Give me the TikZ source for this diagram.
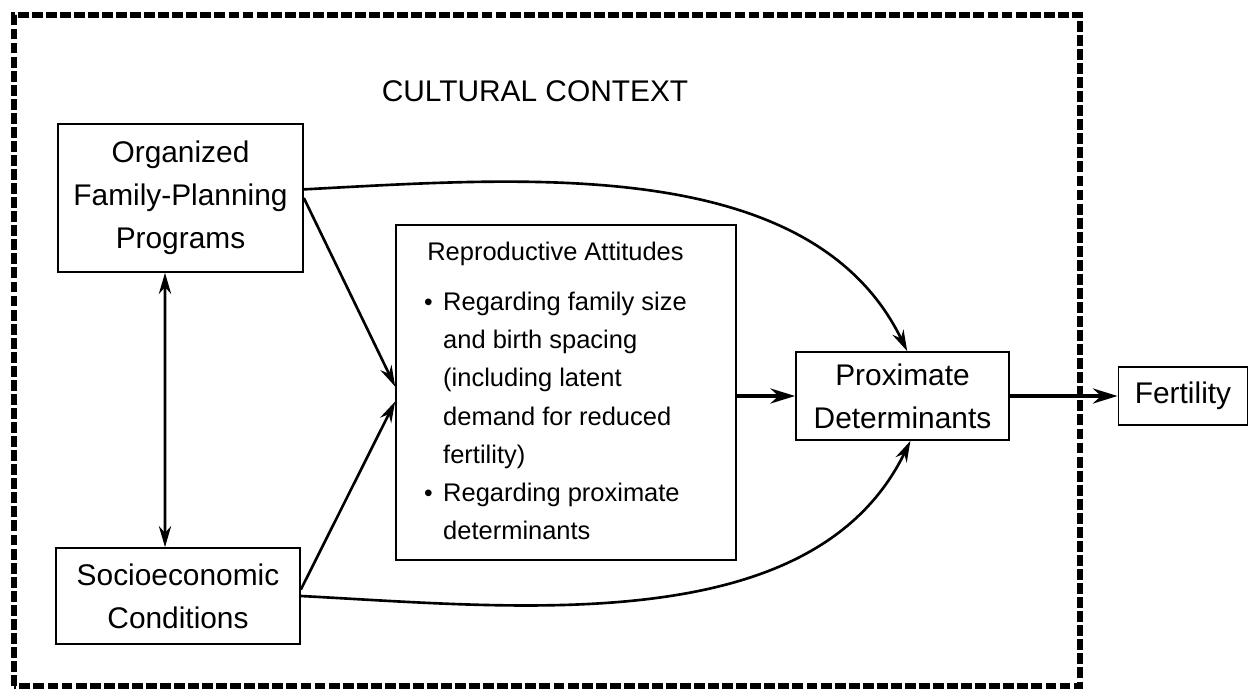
\documentclass[tikz,border=0pt]{standalone}
\usepackage{fontspec}
\setmainfont{Liberation Sans}
\usetikzlibrary{arrows.meta}

\begin{document}
\begin{tikzpicture}[x=0.02cm, y=0.02cm, >={Stealth[length=12pt, width=7pt]},
  box/.style={draw, line width=1pt},
  big/.style={box, align=center, font=\fontsize{17}{24.5}\selectfont},
  link/.style={line width=1.5pt, ->},
  thick link/.style={line width=2.4pt, -{Stealth[length=14pt, width=8.5pt]}}]
  \useasboundingbox (0,0) rectangle (1252,694);
  \draw[line width=3.4pt, dash pattern=on 6.2pt off 1.8pt] (14,8) rectangle (1080,679);
  \node[font=\fontsize{17}{20}\selectfont] (ctx) at (535,603) {CULTURAL CONTEXT};
  \node[big, minimum width=4.9cm, minimum height=2.96cm] (fpp) at (180.5,496) {Organized\\Family-Planning\\Programs};
  \node[big, minimum width=4.88cm, minimum height=1.92cm] (soc) at (178,98) {Socioeconomic\\Conditions};
  \node[box, minimum width=6.8cm, minimum height=6.7cm, font=\fontsize{14.5}{21.8}\selectfont] (att) at (566,301.5) {%
    \begin{tabular}{@{}p{0.38cm}@{}l@{\hspace{0.42cm}}}
      \multicolumn{2}{@{}c@{\hspace{0.42cm}}}{Reproductive Attitudes}\\[6.5pt]
      {\fontsize{14}{14}\selectfont\textbullet} & Regarding family size\\
      & and birth spacing\\
      & (including latent\\
      & demand for reduced\\
      & fertility)\\
      {\fontsize{14}{14}\selectfont\textbullet} & Regarding proximate\\
      & determinants
    \end{tabular}};
  \node[big, minimum width=4.26cm, minimum height=1.76cm] (prox) at (902.5,298) {Proximate\\Determinants};
  \node[big, minimum width=2.58cm, minimum height=1.16cm] (fert) at (1183,298) {Fertility};
  \draw[link, <->] ([xshift=-0.31cm]fpp.south) -- ([xshift=-0.26cm]soc.north);
  \draw[link] (fpp.east) -- (att.178);
  \draw[link] (soc.3) -- (att.183);
  \draw[link] (fpp.4) to[out=3, in=116, looseness=0.9] (prox.84);
  \draw[link] (soc.east) to[out=-3, in=-116, looseness=0.9] (prox.-80);
  \draw[thick link] (att.east |- prox.west) -- (prox.west);
  \draw[thick link] (prox.east) -- (fert.west);
\end{tikzpicture}
\end{document}
